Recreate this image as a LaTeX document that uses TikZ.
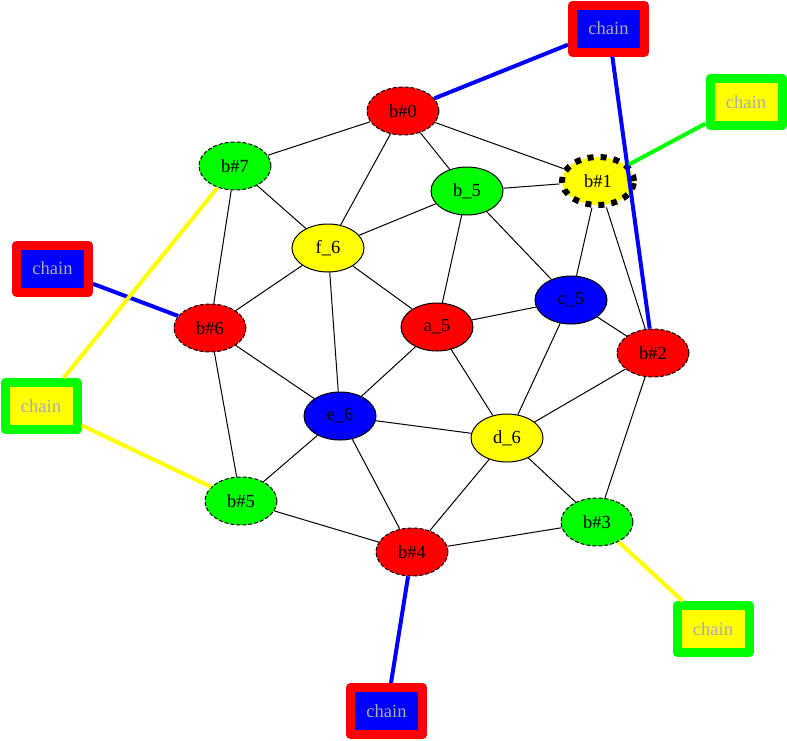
\documentclass[tikz,border=0pt]{standalone}
\usepackage{fontspec}
\setmainfont{Liberation Serif}
\usetikzlibrary{shapes.geometric}
\definecolor{gvred}{RGB}{255,0,0}
\definecolor{gvgreen}{RGB}{0,255,0}
\definecolor{gvblue}{RGB}{0,0,255}
\definecolor{gvyellow}{RGB}{255,255,0}
\definecolor{chaintext}{RGB}{172,172,172}
\begin{document}
\begin{tikzpicture}[x=1pt,y=-1pt,
    every node/.style={font=\fontsize{18.5}{20}\selectfont},
    vert/.style={ellipse,draw=black,line width=1pt,minimum width=72pt,minimum height=48pt,inner sep=0pt},
    bnd/.style={vert,dash pattern=on 4pt off 2pt},
    chain/.style={rectangle,line width=9pt,line join=round,minimum width=72pt,minimum height=47pt,inner sep=0pt,text=chaintext},
    link/.style={line width=1pt},
    tie/.style={line width=4pt}]
    \useasboundingbox (0,0) rectangle (787,740);

    % inner vertices
    \node[vert,fill=gvgreen] (b5) at (467,191) {b\_5};
    \node[vert,fill=gvyellow] (f6) at (328,248) {f\_6};
    \node[vert,fill=gvblue] (c5) at (571,300) {c\_5};
    \node[vert,fill=gvred] (a5) at (437,327) {a\_5};
    \node[vert,fill=gvblue] (e6) at (340,416) {e\_6};
    \node[vert,fill=gvyellow] (d6) at (507,438) {d\_6};

    % boundary vertices
    \node[bnd,fill=gvred] (bh0) at (403,111) {b\#0};
    \node[vert,fill=gvyellow,line width=6pt,dash pattern=on 6pt off 7pt] (bh1) at (598,181) {b\#1};
    \node[bnd,fill=gvred] (bh2) at (653,353) {b\#2};
    \node[bnd,fill=gvgreen] (bh3) at (597,522) {b\#3};
    \node[bnd,fill=gvred] (bh4) at (412,552) {b\#4};
    \node[bnd,fill=gvgreen] (bh5) at (241,501) {b\#5};
    \node[bnd,fill=gvred] (bh6) at (210,328) {b\#6};
    \node[bnd,fill=gvgreen] (bh7) at (235,166) {b\#7};

    % chains
    \node[chain,draw=gvred,fill=gvblue] (ctop) at (608.5,28.5) {chain};
    \node[chain,draw=gvgreen,fill=gvyellow] (cright) at (746,102) {chain};
    \node[chain,draw=gvred,fill=gvblue] (cleft) at (52.5,268.5) {chain};
    \node[chain,draw=gvgreen,fill=gvyellow] (cleftlow) at (41,406) {chain};
    \node[chain,draw=gvgreen,fill=gvyellow] (cbr) at (713,629) {chain};
    \node[chain,draw=gvred,fill=gvblue] (cbot) at (386.5,711) {chain};

    % edges
    \draw[link] (bh0) -- (bh7); \draw[link] (bh0) -- (f6);
    \draw[link] (bh0) -- (b5);  \draw[link] (bh0) -- (bh1);
    \draw[link] (bh7) -- (f6);  \draw[link] (bh7) -- (bh6);
    \draw[link] (b5) -- (bh1);  \draw[link] (b5) -- (f6);
    \draw[link] (b5) -- (a5);   \draw[link] (b5) -- (c5);
    \draw[link] (bh1) -- (c5);  \draw[link] (bh1) -- (bh2);
    \draw[link] (f6) -- (bh6);  \draw[link] (f6) -- (a5);
    \draw[link] (f6) -- (e6);   \draw[link] (c5) -- (a5);
    \draw[link] (c5) -- (bh2);  \draw[link] (c5) -- (d6);
    \draw[link] (bh6) -- (e6);  \draw[link] (bh6) -- (bh5);
    \draw[link] (a5) -- (e6);   \draw[link] (a5) -- (d6);
    \draw[link] (bh2) -- (d6);  \draw[link] (bh2) -- (bh3);
    \draw[link] (e6) -- (d6);   \draw[link] (e6) -- (bh5);
    \draw[link] (e6) -- (bh4);  \draw[link] (d6) -- (bh4);
    \draw[link] (d6) -- (bh3);  \draw[link] (bh5) -- (bh4);
    \draw[link] (bh4) -- (bh3);

    % chain edges
    \draw[tie,gvblue] (bh0) -- (ctop);
    \draw[tie,gvblue] (ctop) -- (bh2);
    \draw[tie,gvgreen] (bh1) -- (cright);
    \draw[tie,gvblue] (cleft) -- (bh6);
    \draw[tie,gvyellow] (bh7) -- (cleftlow);
    \draw[tie,gvyellow] (cleftlow) -- (bh5);
    \draw[tie,gvyellow] (bh3) -- (cbr);
    \draw[tie,gvblue] (bh4) -- (cbot);
\end{tikzpicture}
\end{document}
